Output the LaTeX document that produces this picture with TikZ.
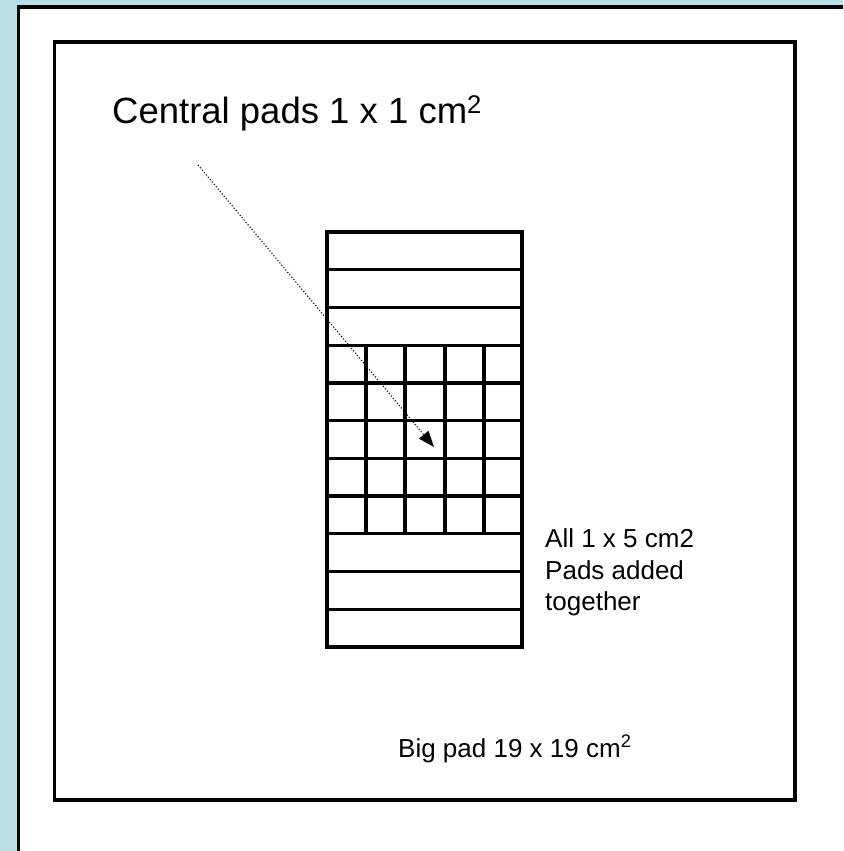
\documentclass[tikz,border=0pt]{standalone}
\usepackage{fontspec}
\setmainfont{Liberation Sans}
\usetikzlibrary{arrows.meta}
\definecolor{bgblue}{HTML}{BAE0E4}
\tikzset{
  padline/.style={line width=3.2pt, line cap=rect},
  bigtext/.style={inner sep=0pt, font=\fontsize{36.5}{40}\selectfont},
  smalltext/.style={inner sep=0pt, font=\fontsize{26}{30}\selectfont},
  pointer/.style={dotted, line width=1.1pt, -{Triangle[length=16pt,width=12pt]}}
}
\begin{document}
\begin{tikzpicture}[x=1pt,y=-1pt]
\useasboundingbox (0,0) rectangle (843,851);
\clip (0,0) rectangle (843,851);
\fill[bgblue] (0,0) rectangle (843,851);
% outer white sheet
\draw[line width=3.5pt, fill=white] (18.5,7) rectangle (900,900);
% big pad
\draw[line width=3.2pt] (54.5,42) rectangle (795,800);
% pad strips and central grid
\def\rh{37.727}
\draw[padline] (327,232) rectangle (522,647);
\foreach \i in {1,...,10} {
  \draw[padline] (327,232+\i*\rh) -- (522,232+\i*\rh);
}
\foreach \xx in {366,405,445,484} {
  \draw[padline] (\xx,{232+3*\rh}) -- (\xx,{232+8*\rh});
}
% labels
\node[bigtext, anchor=base west] (central) at (112,123) {Central pads 1 x 1 cm\textsuperscript{2}};
\node[smalltext, anchor=base west] (all1) at (545,547) {All 1 x 5 cm2};
\node[smalltext, anchor=base west] (all2) at (545,579) {Pads added};
\node[smalltext, anchor=base west] (all3) at (545,610) {together};
\node[smalltext, anchor=base west] (big) at (398,757) {Big pad 19 x 19 cm\textsuperscript{2}};
% pointer
\coordinate (pstart) at (198,165);
\coordinate (ptip) at (434,447);
\draw[pointer] (pstart) -- (ptip);
\end{tikzpicture}
\end{document}
